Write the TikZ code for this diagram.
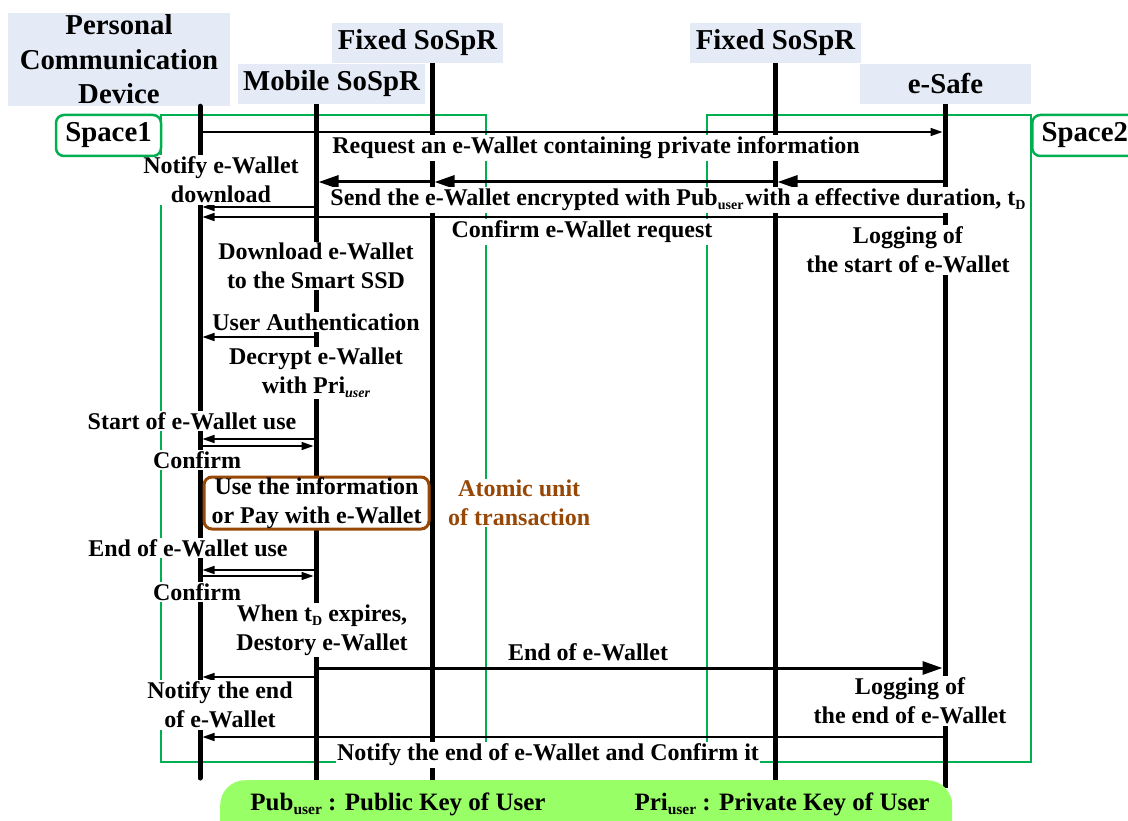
\documentclass[tikz,border=0pt]{standalone}
\usepackage{fontspec}
\setmainfont{Liberation Serif}
\usepackage{tikz}
\usetikzlibrary{
    positioning,
    arrows.meta
}
\definecolor{headBlue}{RGB}{228, 235, 246}
\definecolor{spaceGreen}{RGB}{0, 176, 80}
\definecolor{atomBrown}{RGB}{152, 72, 6}
\definecolor{keyGreen}{RGB}{153, 255, 102}
\newcommand{\headfont}{\fontsize{28.8}{34.5}\selectfont\bfseries}
\newcommand{\bodyfont}{\fontsize{24}{29}\selectfont\bfseries}
\newcommand{\keyfont}{\fontsize{25}{29}\selectfont\bfseries}
\newcommand{\lowtxt}[1]{\raisebox{-0.35ex}{\fontsize{14}{14}\selectfont #1}}
\newcommand{\keylow}[1]{\raisebox{-0.35ex}{\fontsize{15.5}{15.5}\selectfont #1}}

\begin{document}
\begin{tikzpicture}[x=1pt, y=-1pt, >={Triangle[length=12pt, width=8pt]},
    head/.style={fill=headBlue, align=center, font=\headfont, inner sep=0pt},
    life/.style={line width=5pt},
    msg/.style={->, line width=1.5pt, shorten >=2.5pt, shorten <=2.5pt},
    bigmsg/.style={-{Triangle[length=20pt, width=13pt]}, line width=3pt, shorten >=2.5pt, shorten <=2.5pt},
    lbl/.style={fill=white, inner sep=1.5pt, align=center, font=\bodyfont},
    spacebox/.style={draw=spaceGreen, line width=2.5pt},
    spacetag/.style={draw=spaceGreen, line width=2.5pt, fill=white, rounded corners=8pt,
        font=\headfont, minimum width=105pt, minimum height=41pt}]
                \useasboundingbox (0,0) rectangle (1128,821);

                \node[head, minimum width=222pt, minimum height=93pt] (pcd) at (119,59.5) {Personal\\Communication\\Device};
                \node[head, minimum width=187pt, minimum height=40pt] (mob) at (331.5,84) {Mobile SoSpR};
                \node[head, minimum width=171pt, minimum height=40pt] (fixA) at (417.5,43) {Fixed SoSpR};
                \node[head, minimum width=171pt, minimum height=40pt] (fixB) at (775.5,43) {Fixed SoSpR};
                \node[head, minimum width=171pt, minimum height=40pt] (safe) at (945.5,84) {e-Safe};

                \draw[spacebox] (161,115) rectangle (486,762);
                \draw[spacebox] (707,115) rectangle (1031,762);

                \coordinate (pcdEnd) at (200,778);
                \coordinate (mobEnd) at (316,786);
                \coordinate (fixAEnd) at (432,786);
                \coordinate (fixBEnd) at (775,786);
                \coordinate (safeEnd) at (945,788);
                \draw[life, line cap=round] (pcd.south -| pcdEnd) -- (pcdEnd);
                \draw[life] (mob.south -| mobEnd) -- (mobEnd);
                \draw[life] (fixA.south -| fixAEnd) -- (fixAEnd);
                \draw[life] (fixB.south -| fixBEnd) -- (fixBEnd);
                \draw[life] (safe.south -| safeEnd) -- (safeEnd);

                \coordinate (reqP) at (200,132);
                \coordinate (reqS) at (945,132);
                \coordinate (sendS) at (945,182);
                \coordinate (sendB) at (775,182);
                \coordinate (sendA) at (432,182);
                \coordinate (sendM) at (316,182);
                \coordinate (dlM) at (316,207);
                \coordinate (dlP) at (200,207);
                \coordinate (cfS) at (945,217);
                \coordinate (cfP) at (200,217);
                \coordinate (auM) at (316,337);
                \coordinate (auP) at (200,337);
                \coordinate (stM) at (316,439);
                \coordinate (stP) at (200,439);
                \coordinate (ckP) at (200,446);
                \coordinate (ckM) at (316,446);
                \coordinate (enM) at (316,570);
                \coordinate (enP) at (200,570);
                \coordinate (ekP) at (200,576);
                \coordinate (ekM) at (316,576);
                \coordinate (ewM) at (316,668);
                \coordinate (ewS) at (945,668);
                \coordinate (neM) at (316,677);
                \coordinate (neP) at (200,677);
                \coordinate (lsS) at (945,737);
                \coordinate (lsP) at (200,737);

                \draw[msg] (reqP) -- (reqS);
                \draw[bigmsg] (sendS) -- (sendB);
                \draw[bigmsg] (sendB) -- (sendA);
                \draw[bigmsg] (sendA) -- (sendM);
                \draw[msg] (dlM) -- (dlP);
                \draw[msg] (cfS) -- (cfP);
                \draw[msg] (auM) -- (auP);
                \draw[msg] (stM) -- (stP);
                \draw[msg] (ckP) -- (ckM);
                \draw[msg] (enM) -- (enP);
                \draw[msg] (ekP) -- (ekM);
                \draw[bigmsg] (ewM) -- (ewS);
                \draw[msg] (neM) -- (neP);
                \draw[msg] (lsS) -- (lsP);

                \node[lbl] (reqTxt) at (596,148) {Request an e-Wallet containing private information};
                \node[lbl] (sendTxt) at (678,200) {Send the e-Wallet encrypted with Pub\lowtxt{user}\hspace{2pt}with a effective duration, t\lowtxt{D}};
                \node[lbl] (notifyTxt) at (221,180) {Notify e-Wallet\\download};
                \node[lbl] (confTxt) at (582,232) {Confirm e-Wallet request};
                \node[lbl] (logStart) at (908,250) {Logging of\\the start of e-Wallet};
                \node[lbl] (dlTxt) at (316,266) {Download e-Wallet\\to the Smart SSD};
                \node[lbl] (authTxt) at (316,322) {User Authentication};
                \node[lbl] (decTxt) at (316,373) {Decrypt e-Wallet\\with Pri\lowtxt{\itshape user}};
                \node[lbl] (startTxt) at (192,421) {Start of e-Wallet use};
                \node[lbl] (confA) at (197,460) {Confirm};
                \node[lbl, draw=atomBrown, line width=3pt, rounded corners=8pt, inner sep=0pt,
                    minimum width=225pt, minimum height=52pt] (useBox) at (316.5,503) {Use the information\\or Pay with e-Wallet};
                \node[lbl, text=atomBrown, right=16pt of useBox] (atomTxt) {Atomic unit\\of transaction};
                \node[lbl] (endUse) at (188,548) {End of e-Wallet use};
                \node[lbl] (confB) at (197,592) {Confirm};
                \node[lbl] (expTxt) at (322,630) {When t\lowtxt{D} expires,\\Destory e-Wallet};
                \node[lbl] (endTxt) at (588,652) {End of e-Wallet};
                \node[lbl] (notEnd) at (220,705) {Notify the end\\of e-Wallet};
                \node[lbl] (logEnd) at (910,701) {Logging of\\the end of e-Wallet};
                \node[lbl] (lastTxt) at (548,755) {Notify the end of e-Wallet and Confirm it};

                \node[spacetag] (sp1) at (108.5,135.5) {Space1};
                \node[spacetag, anchor=west] (sp2) at (1031,135.5) {Space2};

                \node[fill=keyGreen, rounded corners=25pt, minimum width=732pt, minimum height=70pt,
                    anchor=north west] (keyBox) at (220,780) {};
                \node[font=\keyfont] (pubTxt) at (398,804) {Pub\keylow{user} : Public Key of User};
                \node[font=\keyfont] (priTxt) at (782,804) {Pri\keylow{user} : Private Key of User};
            \end{tikzpicture}
\end{document}
